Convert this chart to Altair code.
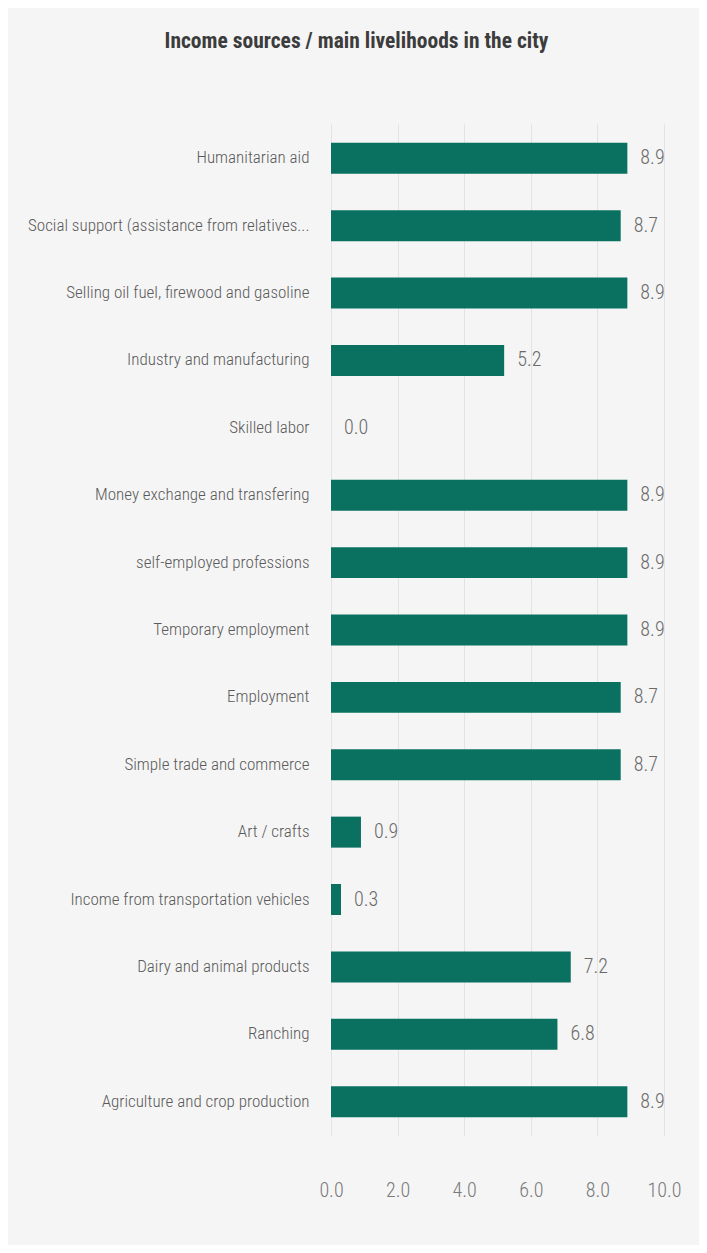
import altair as alt
import pandas as pd

categories = [
    "Humanitarian aid",
    "Social support (assistance from relatives...",
    "Selling oil fuel, firewood and gasoline",
    "Industry and manufacturing",
    "Skilled labor",
    "Money exchange and transfering",
    "self-employed professions",
    "Temporary employment",
    "Employment",
    "Simple trade and commerce",
    "Art / crafts",
    "Income from transportation vehicles",
    "Dairy and animal products",
    "Ranching",
    "Agriculture and crop production",
]
values = [8.9, 8.7, 8.9, 5.2, 0.0, 8.9, 8.9, 8.9, 8.7, 8.7, 0.9, 0.3, 7.2, 6.8, 8.9]
x_ticks = [0, 2, 4, 6, 8, 10]

df = pd.DataFrame({"category": categories, "value": values})

FONT = "Roboto Condensed, Liberation Sans Narrow, DejaVu Sans Condensed, sans-serif"

y_enc = alt.Y(
    "category:N",
    sort=categories,
    scale=alt.Scale(paddingInner=0.54, paddingOuter=0.28),
    axis=alt.Axis(
        title=None,
        ticks=False,
        domain=False,
        labelPadding=22,
        labelFontSize=17,
        labelFontWeight=300,
        labelColor="#5a5a5a",
        labelFont=FONT,
        labelLimit=320,
    ),
)
x_enc = alt.X(
    "value:Q",
    scale=alt.Scale(domain=[0, 10], nice=False),
    axis=alt.Axis(
        title=None,
        values=x_ticks,
        format=".1f",
        ticks=False,
        domain=False,
        grid=True,
        gridColor="#e3e3e3",
        gridWidth=1,
        labelFlush=False,
        labelPadding=44,
        labelFontSize=20,
        labelFontWeight=300,
        labelColor="#7a7a7a",
        labelFont=FONT,
    ),
)

bars = alt.Chart(df).mark_bar(color="#0a7060").encode(x=x_enc, y=y_enc)
labels = alt.Chart(df).mark_text(
    align="left", baseline="middle", dx=13, fontSize=20, fontWeight=300,
    color="#6a6a6a", font=FONT
).encode(
    x=alt.X("value:Q"),
    y=alt.Y("category:N", sort=categories),
    text=alt.Text("value:Q", format=".1f"),
)

chart = (
    alt.layer(bars, labels)
    .properties(
        width=333,
        height=1012,
        autosize=alt.AutoSizeParams(type="none"),
        padding={"left": 323, "top": 116, "right": 35, "bottom": 109},
        title=alt.TitleParams(
            "Income sources / main livelihoods in the city",
            fontSize=21.5,
            fontWeight="bold",
            font=FONT,
            color="#3c3c3c",
            anchor="middle",
            dx=-141,
            offset=72,
        ),
        background="#f5f5f5",
    )
    .configure_view(stroke=None)
)

chart.save("out.html", embed_options={"renderer": "svg", "actions": False})
